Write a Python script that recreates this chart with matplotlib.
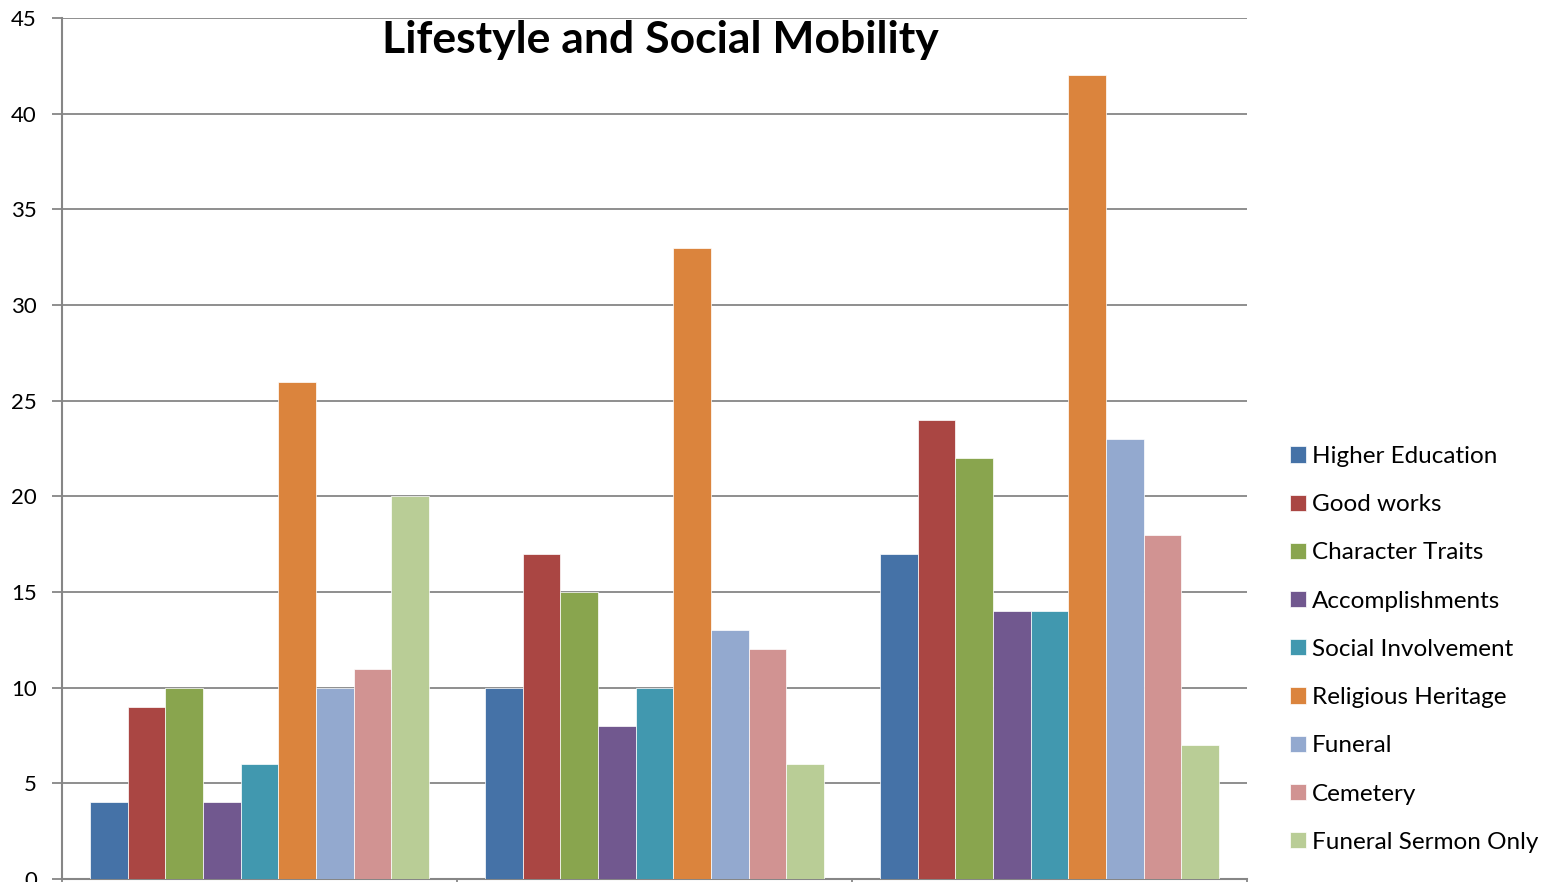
import matplotlib
matplotlib.use("Agg")
import matplotlib.pyplot as plt
import numpy as np

plt.rcParams['font.family'] = ['Lato', 'DejaVu Sans']

categories = ["Group 1", "Group 2", "Group 3"]
series = ["Higher Education", "Good works", "Character Traits", "Accomplishments",
          "Social Involvement", "Religious Heritage", "Funeral", "Cemetery",
          "Funeral Sermon Only"]
values = {
    "Higher Education":    [4, 10, 17],
    "Good works":          [9, 17, 24],
    "Character Traits":    [10, 15, 22],
    "Accomplishments":     [4, 8, 14],
    "Social Involvement":  [6, 10, 14],
    "Religious Heritage":  [26, 33, 42],
    "Funeral":             [10, 13, 23],
    "Cemetery":            [11, 12, 18],
    "Funeral Sermon Only": [20, 6, 7],
}
colors = ["#4572A7", "#AA4643", "#89A54E", "#71588F", "#4198AF",
          "#DB843D", "#93A9CF", "#D19392", "#B9CD96"]
y_ticks = [0, 5, 10, 15, 20, 25, 30, 35, 40, 45]

W, H = 1557, 882
fig = plt.figure(figsize=(W / 100, H / 100), dpi=100)
ax = fig.add_axes([62 / W, 3 / H, (1247 - 62) / W, (879 - 18) / H])

x = np.arange(len(categories))
n = len(series)
bw = 1.0 / (n + 1.5)
handles = []
for i, (name, col) in enumerate(zip(series, colors)):
    offs = (i - (n - 1) / 2) * bw
    b = ax.bar(x + offs, values[name], width=bw, color=col,
               edgecolor="white", linewidth=0.5, zorder=3, label=name)
    handles.append(b)

ax.set_xlim(-0.5, len(categories) - 0.5)
ax.set_ylim(0, 45)
ax.set_yticks(y_ticks)
ax.set_yticklabels([str(t) for t in y_ticks], fontsize=16)
ax.set_xticks(np.arange(len(categories) + 1) - 0.5)
ax.set_xticklabels([])
ax.yaxis.grid(True, color="#868686", linewidth=1.3, zorder=0)
ax.set_axisbelow(True)
for s in ["top", "right"]:
    ax.spines[s].set_visible(False)
for s in ["left", "bottom"]:
    ax.spines[s].set_color("#868686")
    ax.spines[s].set_linewidth(1.5)
ax.tick_params(axis="y", length=7, width=1.3, color="#868686", pad=11)
ax.tick_params(axis="x", length=7, width=1.3, color="#868686")

ax.text(0.505, (879 - 40) / 861, "Lifestyle and Social Mobility",
        transform=ax.transAxes, ha="center", va="center",
        fontsize=32, fontweight="bold")

leg = fig.legend(handles=handles, labels=series, loc="upper left",
                 bbox_to_anchor=(1290 / W, 1 - 446 / H), frameon=False,
                 fontsize=17.5, handlelength=0.65, handleheight=0.65,
                 handletextpad=0.25, labelspacing=1.12, borderaxespad=0,
                 borderpad=0)

fig.savefig("out.png", dpi=100)
